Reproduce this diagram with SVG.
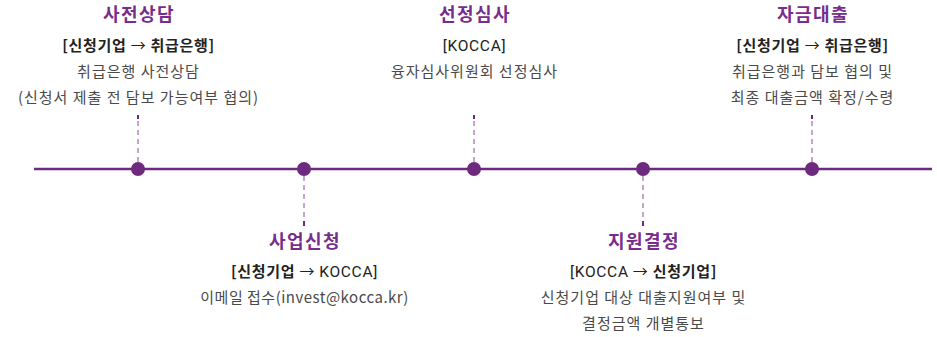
<svg xmlns="http://www.w3.org/2000/svg" width="937" height="337" viewBox="0 0 937 337">
<style>
text{font-family:"Noto Sans CJK KR","Noto Sans",sans-serif;text-anchor:middle}
.t{font-size:18px;font-weight:bold;fill:#772d8b;letter-spacing:1.5px}
.s{font-size:15px;font-weight:bold;fill:#222;letter-spacing:0.7px}
.l{font-weight:normal;font-family:Roboto,"Noto Sans CJK KR",sans-serif;font-size:15.5px}
.ar{font-weight:normal}
.d{font-size:15px;fill:#4a4a4a;letter-spacing:1px}
.e{letter-spacing:0.5px}
.dash{stroke:#c4a3cd;stroke-width:2;stroke-dasharray:5 4}
.tip{stroke:#6e2a7f;stroke-width:2}
.main{stroke:#6e2a7f;stroke-width:2.5}
.dot{fill:#6e2a7f}
</style>
<g id="connectors">
<line class="main" x1="34" y1="169" x2="932" y2="169"/>
<line class="dash" x1="138" y1="121" x2="138" y2="162"/>
<line class="tip" x1="138" y1="115" x2="138" y2="119"/>
<line class="dash" x1="474" y1="121" x2="474" y2="162"/>
<line class="tip" x1="474" y1="115" x2="474" y2="119"/>
<line class="dash" x1="812" y1="121" x2="812" y2="162"/>
<line class="tip" x1="812" y1="115" x2="812" y2="119"/>
<line class="dash" x1="304" y1="176" x2="304" y2="218"/>
<line class="tip" x1="304" y1="221" x2="304" y2="226"/>
<line class="dash" x1="643" y1="176" x2="643" y2="218"/>
<line class="tip" x1="643" y1="221" x2="643" y2="226"/>
</g>
<g id="n1">
<circle class="dot" cx="138" cy="169" r="7"/>
<text class="t" x="139" y="21">사전상담</text>
<text class="s" x="138.5" y="51">[신청기업 <tspan class="ar">→</tspan> 취급은행]</text>
<text class="d" x="138.5" y="77">취급은행 사전상담</text>
<text class="d" x="138.5" y="103">(신청서 제출 전 담보 가능여부 협의)</text>
</g>
<g id="n2">
<circle class="dot" cx="304" cy="169" r="7"/>
<text class="t" x="305" y="248">사업신청</text>
<text class="s" x="304.5" y="277">[신청기업 <tspan class="ar">→</tspan> <tspan class="l">KOCCA]</tspan></text>
<text class="d e" x="304.5" y="303">이메일 접수(invest@kocca.kr)</text>
</g>
<g id="n3">
<circle class="dot" cx="474" cy="169" r="7"/>
<text class="t" x="475" y="21">선정심사</text>
<text class="s l" x="474.5" y="51">[KOCCA]</text>
<text class="d" x="474.5" y="77">융자심사위원회 선정심사</text>
</g>
<g id="n4">
<circle class="dot" cx="643" cy="169" r="7"/>
<text class="t" x="644" y="248">지원결정</text>
<text class="s" x="643.5" y="277"><tspan class="l">[KOCCA</tspan> <tspan class="ar">→</tspan> 신청기업]</text>
<text class="d" x="643.5" y="303">신청기업 대상 대출지원여부 및</text>
<text class="d" x="643.5" y="329">결정금액 개별통보</text>
</g>
<g id="n5">
<circle class="dot" cx="812" cy="169" r="7"/>
<text class="t" x="813" y="21">자금대출</text>
<text class="s" x="812.5" y="51">[신청기업 <tspan class="ar">→</tspan> 취급은행]</text>
<text class="d" x="812.5" y="77">취급은행과 담보 협의 및</text>
<text class="d" x="812.5" y="103">최종 대출금액 확정/수령</text>
</g>
</svg>
